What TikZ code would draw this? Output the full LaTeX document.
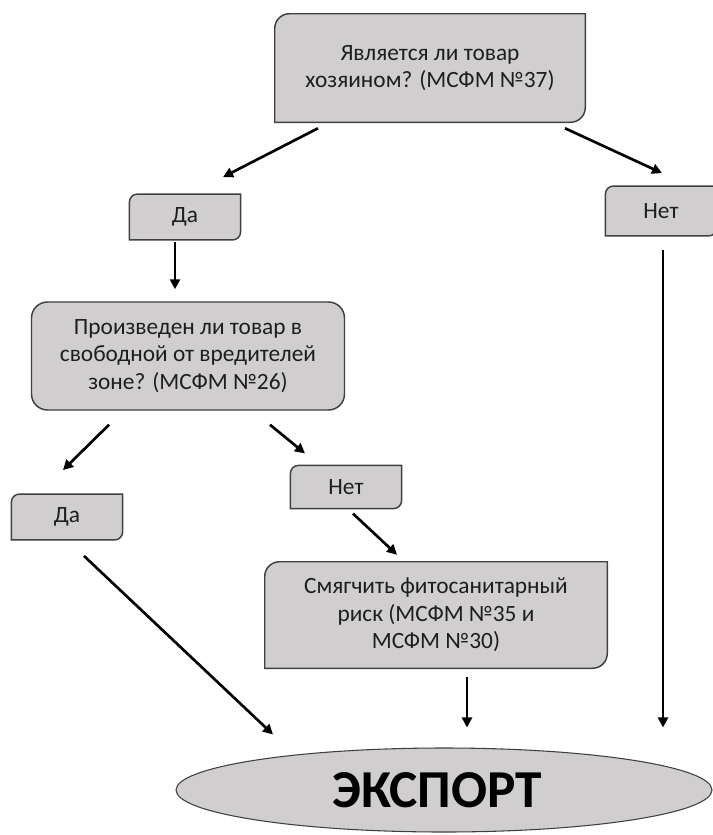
\documentclass[tikz,border=0pt]{standalone}
\usepackage{fontspec}
\setmainfont{Carlito}
\usepackage{tikz}
\usetikzlibrary{shapes,backgrounds,arrows.meta}

\definecolor{boxgray}{RGB}{208,206,206}
\definecolor{boxline}{RGB}{64,64,64}
\definecolor{txt}{RGB}{30,30,30}

\tikzset{
    qtext/.style={align=center, text=txt, font=\fontsize{17.5}{20.5}\selectfont, inner sep=0pt},
    small/.style={qtext, minimum width=83pt, minimum height=34pt},
    frame/.style={draw=boxline, fill=boxgray, line width=1.1pt},
    arrow/.style={-{Triangle[length=7.5pt,width=7.5pt]}, line width=2pt, black}
}

\begin{document}
\begin{tikzpicture}[x=0.75pt,y=-0.75pt]
        \useasboundingbox (0,0) rectangle (713,835);
        \node[qtext, minimum width=232.5pt, minimum height=81pt] (top) at (430,68) {Является ли товар\\хозяином? (МСФМ №37)};
        \node[small] (da1) at (185,217) {Да};
        \node[small, minimum height=37pt] (net1) at (661,211) {Нет};
        \node[qtext, frame, rounded corners=12pt, minimum width=234.75pt, minimum height=81pt] (mid) at (188,356) {Произведен ли товар в\\свободной от вредителей\\зоне? (МСФМ №26)};
        \node[small] (da2) at (67,517) {Да};
        \node[small, minimum height=32pt] (net2) at (346,487) {Нет};
        \node[qtext, minimum width=256.5pt, minimum height=79.5pt] (mit) at (436,615) {Смягчить фитосанитарный\\риск (МСФМ №35 и\\МСФМ №30)};
        \node[ellipse, draw=boxline, fill=boxgray, line width=0.8pt, minimum width=402pt, minimum height=63pt,
              font=\fontsize{40}{40}\bfseries, text=black, inner sep=0pt] (exp) at (444,790) {\hspace*{-10pt}ЭКСПОРТ};
        \begin{scope}[on background layer]
            \foreach \n/\r in {top/11pt, da1/6pt, net1/6pt, da2/6pt, net2/6pt, mit/11pt}
                \draw[frame] (\n.south west) -- ([yshift=-\r]\n.north west) arc[start angle=180, end angle=90, radius=\r]
                    -- (\n.north east) -- ([yshift=\r]\n.south east) arc[start angle=0, end angle=-90, radius=\r] -- cycle;
        \end{scope}
        \draw[arrow] ([shift={(-112,6)}]top.south) -- ([shift={(38,-17)}]da1.north);
        \draw[arrow] ([shift={(135,6)}]top.south) -- ([shift={(1,-13)}]net1.north);
        \draw[arrow] ([shift={(-10,2)}]da1.south) -- ([shift={(-13,-12)}]mid.north);
        \draw[arrow] ([shift={(-79,14)}]mid.south) -- ([shift={(-4,-24)}]da2.north);
        \draw[arrow] ([shift={(82,14)}]mid.south) -- ([shift={(-41,-12)}]net2.north);
        \draw[arrow] ([shift={(7,5)}]net2.south) -- ([shift={(-39,-7)}]mit.north);
        \draw[arrow] ([shift={(17,16)}]da2.south) -- ([shift={(-171,-13)}]exp.north);
        \draw[arrow] ([shift={(31,9)}]mit.south) -- ([shift={(23,-20)}]exp.north);
        \draw[arrow] ([shift={(2,14)}]net1.south) -- ([shift={(219,-20)}]exp.north);
    \end{tikzpicture}
\end{document}
